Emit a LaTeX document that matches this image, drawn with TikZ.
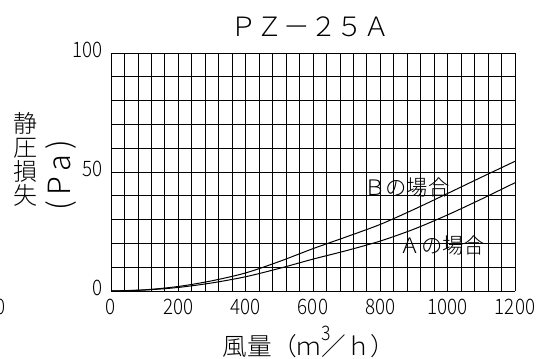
\documentclass[tikz,border=0pt]{standalone}
\usepackage{fontspec}
\newfontfamily\jpfont{Noto Sans CJK JP Light}
\newfontfamily\numfont{Noto Sans CJK JP Light}[FakeStretch=0.88]
\tikzstyle{Grid}=[line width=0.6pt, draw=black]
\tikzstyle{Curve}=[line width=0.75pt, draw=black]
\tikzstyle{Tick}=[inner sep=0pt, font=\numfont\fontsize{16}{16}\selectfont]
\tikzstyle{Label}=[inner sep=0pt, font=\jpfont\fontsize{16}{16}\selectfont]

\begin{document}
\begin{tikzpicture}[x=0.75pt, y=-0.75pt]
    \useasboundingbox (0,0) rectangle (536,358);

    \path
    (310,27) node[inner sep=0pt, font=\jpfont\fontsize{20}{20}\selectfont] (title) {ＰＺ－２５Ａ}
    (25,159) node[inner sep=0pt, align=center, font=\jpfont\fontsize{18}{18}\selectfont] (ylabel) {静\\圧\\損\\失}
    (61,175) node[inner sep=0pt, rotate=90, font=\jpfont\fontsize{23}{23}\selectfont] (yunit) {(\,P\,a\,)}
    (309,342) node[inner sep=0pt, font=\jpfont\fontsize{18.5}{18.5}\selectfont] (xlabel) {風量（ｍ\rlap{\raisebox{11pt}{\numfont\fontsize{15}{15}\selectfont 3}}／ｈ）}
    (1,299) node[Tick, anchor=north] (stray) {0};

    \begin{scope}[shift={(111,291)}, x=0.2525pt, y=1.785pt]
        \foreach \q in {0,40,...,1200}
            \draw[Grid] (\q,0) -- (\q,100);
        \foreach \p in {0,10,...,100}
            \draw[Grid] (0,\p) -- (1200,\p);

        \draw[Curve] plot[smooth] coordinates {(0,0) (100,0.5) (200,1.9) (300,4.3) (400,7.6) (500,12.4) (600,17.8) (700,22.8) (800,28) (900,34.3) (1000,41) (1100,47.8) (1200,54.5)};
        \draw[Curve] plot[smooth] coordinates {(0,0) (100,0.4) (200,1.5) (300,3.4) (400,6) (500,9.5) (600,13.4) (700,17) (800,21) (900,26) (1000,32) (1100,38.6) (1200,45.5)};

        \foreach \q in {0,200,...,1200}
            \path (\q,0) node[Tick, anchor=north, yshift=-6pt] (x\q) {\q};
        \foreach \p in {0,50,100}
            \path (0,\p) node[Tick, anchor=east, xshift=-6pt, yshift=2.5pt] (y\p) {\p};

        \path
        (879,43.5) node[Label] (labB) {Ｂの場合}
        (985,19) node[Label] (labA) {Ａの場合};
    \end{scope}
\end{tikzpicture}
\end{document}
